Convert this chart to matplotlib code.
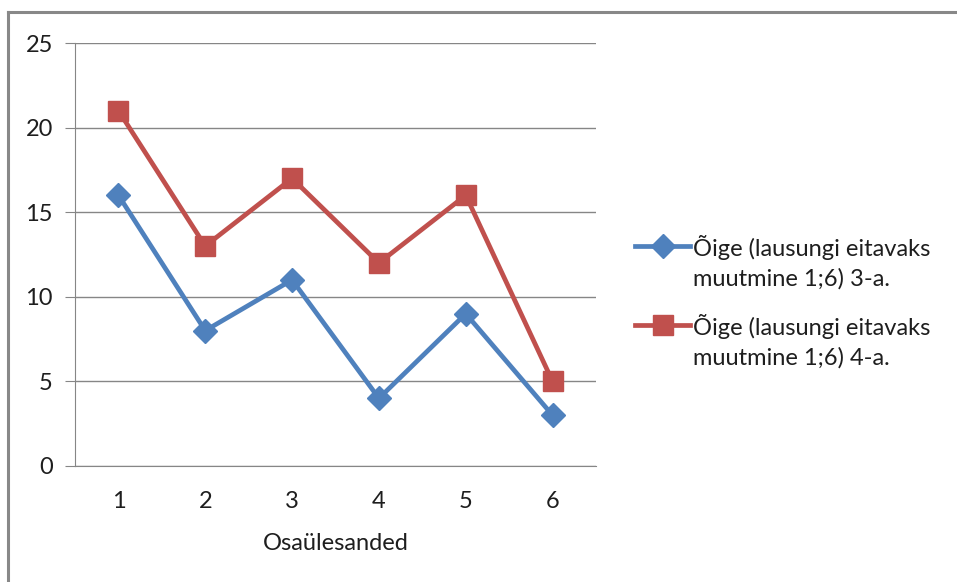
import matplotlib.pyplot as plt
from matplotlib.lines import Line2D
from matplotlib.legend_handler import HandlerLine2D
from matplotlib.transforms import Affine2D

plt.rcParams['font.family'] = ['Lato', 'DejaVu Sans']

# andmed
osad = [1, 2, 3, 4, 5, 6]
oige_3a = [16, 8, 11, 4, 9, 3]
oige_4a = [21, 13, 17, 12, 16, 5]
silt_3a = 'Õige (lausungi eitavaks\nmuutmine 1;6) 3-a.'
silt_4a = 'Õige (lausungi eitavaks\nmuutmine 1;6) 4-a.'

sinine = '#4F81BD'
punane = '#C0504D'
hall = '#868686'
tekst = '#1e1e1e'
fs = 17


class YlemineRida(HandlerLine2D):
    # legendi märk esimese tekstirea kõrgusele
    def create_artists(self, legend, orig_handle, xdescent, ydescent,
                       width, height, fontsize, trans):
        nihe = Affine2D().translate(0, 0.72 * fontsize)
        return super().create_artists(legend, orig_handle, xdescent, ydescent,
                                      width, height, fontsize, nihe + trans)


W, H = 957, 582
fig = plt.figure(figsize=(W / 100, H / 100), dpi=100)

# diagrammi raam (vasak ja ülemine serv)
fig.add_artist(Line2D([8 / W, 8 / W], [0, 1 - 12 / H], color='#888888', lw=2.2))
fig.add_artist(Line2D([8 / W, 1], [1 - 12 / H, 1 - 12 / H], color='#888888', lw=2.2))

ax = fig.add_axes([75 / W, 1 - 466 / H, (596 - 75) / W, (466 - 43) / H])
l1, = ax.plot(osad, oige_3a, color=sinine, lw=3.4, marker='D', ms=12,
              markerfacecolor=sinine, markeredgecolor=sinine, label=silt_3a, zorder=3)
l2, = ax.plot(osad, oige_4a, color=punane, lw=3.4, marker='s', ms=14,
              markerfacecolor=punane, markeredgecolor=punane, label=silt_4a, zorder=3)

ax.set_xlim(0.5, 6.5)
ax.set_ylim(0, 25)
ax.set_xticks(osad)
ax.set_yticks([0, 5, 10, 15, 20, 25])
ax.grid(axis='y', color=hall, lw=1)
ax.set_axisbelow(True)
for s in ['top', 'right']:
    ax.spines[s].set_visible(False)
ax.spines['left'].set_color(hall)
ax.spines['bottom'].set_color(hall)
ax.tick_params(axis='y', length=7, color=hall, labelsize=fs, pad=9, labelcolor=tekst)
ax.tick_params(axis='x', length=0, labelsize=fs, pad=18, labelcolor=tekst)
ax.set_xlabel('Osaülesanded', fontsize=fs, labelpad=15, color=tekst)

leg = ax.legend(loc='center left', bbox_to_anchor=(635 / W, 1 - 302 / H),
                bbox_transform=fig.transFigure, frameon=False, fontsize=fs,
                handlelength=2.35, handletextpad=0.12, labelspacing=1.05,
                borderpad=0, borderaxespad=0, labelcolor=tekst,
                handler_map={l1: YlemineRida(), l2: YlemineRida()})
for t in leg.get_texts():
    t.set_linespacing(1.45)

fig.savefig('out.png', dpi=100, facecolor='white')
